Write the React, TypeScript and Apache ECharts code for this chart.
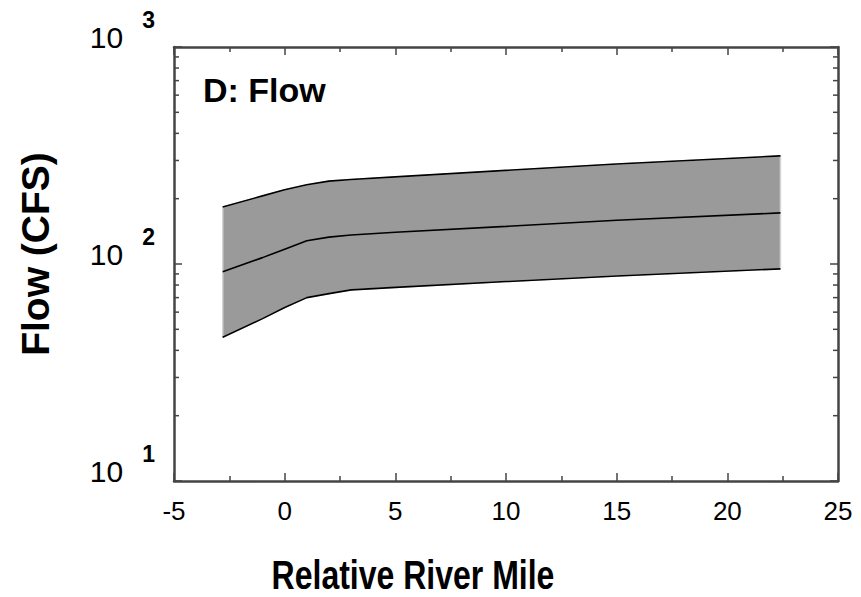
import React, { useEffect, useRef } from "react";
import * as echarts from "echarts";

// Relative river mile positions (x)
const riverMile = [-2.8, -1, 0, 1, 2, 3, 5, 10, 15, 22.4];
// Flow envelope (CFS)
const upperFlow = [183, 206, 220, 232, 241, 245, 252, 270, 289, 315];
const medianFlow = [92, 107, 117, 128, 133, 136, 140, 149, 159, 172];
const lowerFlow = [46, 56, 63, 70, 73, 76, 78, 83, 88, 95];

// Log-axis minor tick values (2..9 per decade)
const minorYTicks = [20, 30, 40, 50, 60, 70, 80, 90, 200, 300, 400, 500, 600, 700, 800, 900];

const panelLabel = "D: Flow";
const xTitle = "Relative River Mile";
const yTitle = "Flow (CFS)";

const FONT = "'Liberation Sans', Arial, Helvetica, sans-serif";
const AXIS_COLOR = "#444";

export default function App() {
  const ref = useRef<HTMLDivElement>(null);

  useEffect(() => {
    if (!ref.current) return;
    const chart = echarts.init(ref.current, null, { renderer: "svg" });

    const bandData = riverMile.map((x, i) => [x, lowerFlow[i], upperFlow[i]]);
    const line = (vals: number[]) => riverMile.map((x, i) => [x, vals[i]]);

    const option: any = {
      animation: false,
      backgroundColor: "#fff",
      grid: { left: 174, right: 23, top: 47, bottom: 116, containLabel: false },
      xAxis: [
        {
          type: "value",
          min: -5,
          max: 25,
          interval: 5,
          position: "bottom",
          axisLine: { show: true, onZero: false, lineStyle: { color: AXIS_COLOR, width: 2.5 } },
          axisTick: { show: true, inside: true, length: 8, lineStyle: { color: AXIS_COLOR, width: 1.5 } },
          minorTick: { show: true, splitNumber: 2, length: 5, lineStyle: { color: AXIS_COLOR, width: 1.5 } },
          splitLine: { show: false },
          axisLabel: { color: "#000", fontSize: 26, fontFamily: FONT, margin: 17 },
        },
        {
          type: "value",
          min: -5,
          max: 25,
          interval: 5,
          position: "top",
          axisLine: { show: true, onZero: false, lineStyle: { color: AXIS_COLOR, width: 2.5 } },
          axisTick: { show: true, inside: true, length: 8, lineStyle: { color: AXIS_COLOR, width: 1.5 } },
          minorTick: { show: true, splitNumber: 2, length: 5, lineStyle: { color: AXIS_COLOR, width: 1.5 } },
          splitLine: { show: false },
          axisLabel: { show: false },
        },
      ],
      yAxis: [
        {
          type: "log",
          logBase: 10,
          min: 10,
          max: 1000,
          position: "left",
          axisLine: { show: true, onZero: false, lineStyle: { color: AXIS_COLOR, width: 2.5 } },
          axisTick: { show: true, inside: true, length: 8, lineStyle: { color: AXIS_COLOR, width: 1.5 } },
          splitLine: { show: false },
          axisLabel: {
            margin: 19,
            color: "#000",
            fontFamily: FONT,
            formatter: (v: number) => `{b|10}{e|${Math.round(Math.log10(v))}}`,
            rich: {
              b: { fontSize: 30, fontFamily: FONT, color: "#000", padding: [0, 19, 19, 0] },
              e: { fontSize: 23, fontFamily: FONT, fontWeight: "bold", color: "#000", padding: [0, 0, 54, 0] },
            },
          },
        },
        {
          type: "log",
          logBase: 10,
          min: 10,
          max: 1000,
          position: "right",
          axisLine: { show: true, onZero: false, lineStyle: { color: AXIS_COLOR, width: 2.5 } },
          axisTick: { show: true, inside: true, length: 8, lineStyle: { color: AXIS_COLOR, width: 1.5 } },
          splitLine: { show: false },
          axisLabel: { show: false },
        },
      ],
      series: [
        {
          type: "custom",
          name: "band",
          xAxisIndex: 0,
          yAxisIndex: 0,
          silent: true,
          z: 2,
          encode: { x: 0, y: [1, 2] },
          data: bandData,
          renderItem: (params: any, api: any) => {
            if (params.dataIndex !== 0) return null;
            const pts: number[][] = [];
            for (let i = 0; i < bandData.length; i++) pts.push(api.coord([bandData[i][0], bandData[i][2]]));
            for (let i = bandData.length - 1; i >= 0; i--) pts.push(api.coord([bandData[i][0], bandData[i][1]]));
            return {
              type: "polygon",
              shape: { points: pts },
              style: { fill: "#9a9a9a", stroke: "#d4d4d4", lineWidth: 1.5 },
            };
          },
        },
        {
          type: "custom",
          name: "minorTicks",
          xAxisIndex: 0,
          yAxisIndex: 0,
          silent: true,
          z: 4,
          clip: false,
          encode: { x: 0, y: 1 },
          data: minorYTicks.map((v) => [-5, v]),
          renderItem: (params: any, api: any) => {
            const y = api.coord([-5, api.value(1)])[1];
            const cs = params.coordSys;
            const left = cs.x;
            const right = cs.x + cs.width;
            return {
              type: "group",
              children: [
                { type: "line", shape: { x1: left, y1: y, x2: left + 5, y2: y }, style: { stroke: AXIS_COLOR, lineWidth: 1.5 } },
                { type: "line", shape: { x1: right, y1: y, x2: right - 5, y2: y }, style: { stroke: AXIS_COLOR, lineWidth: 1.5 } },
              ],
            };
          },
        },
        {
          type: "line",
          name: "upper",
          data: line(upperFlow),
          symbol: "none",
          z: 3,
          lineStyle: { color: "#000", width: 1.6 },
        },
        {
          type: "line",
          name: "median",
          data: line(medianFlow),
          symbol: "none",
          z: 3,
          lineStyle: { color: "#000", width: 1.6 },
        },
        {
          type: "line",
          name: "lower",
          data: line(lowerFlow),
          symbol: "none",
          z: 3,
          lineStyle: { color: "#000", width: 1.6 },
        },
      ],
      graphic: [
        {
          type: "text",
          x: 203,
          y: 90,
          style: {
            text: panelLabel,
            font: `bold 34px ${FONT}`,
            fill: "#000",
            align: "left",
            verticalAlign: "middle",
          },
        },
        {
          type: "text",
          x: 35,
          y: 254,
          rotation: Math.PI / 2,
          style: {
            text: yTitle,
            font: `bold 39px ${FONT}`,
            fill: "#000",
            align: "center",
            verticalAlign: "middle",
          },
        },
        {
          type: "text",
          x: 413,
          y: 575,
          scaleX: 0.8,
          style: {
            text: xTitle,
            font: `bold 40px ${FONT}`,
            fill: "#000",
            align: "center",
            verticalAlign: "middle",
          },
        },
      ],
    };

    chart.setOption(option);
    return () => chart.dispose();
  }, []);

  return <div ref={ref} style={{ width: 861, height: 597, margin: -8 }} />;
}
